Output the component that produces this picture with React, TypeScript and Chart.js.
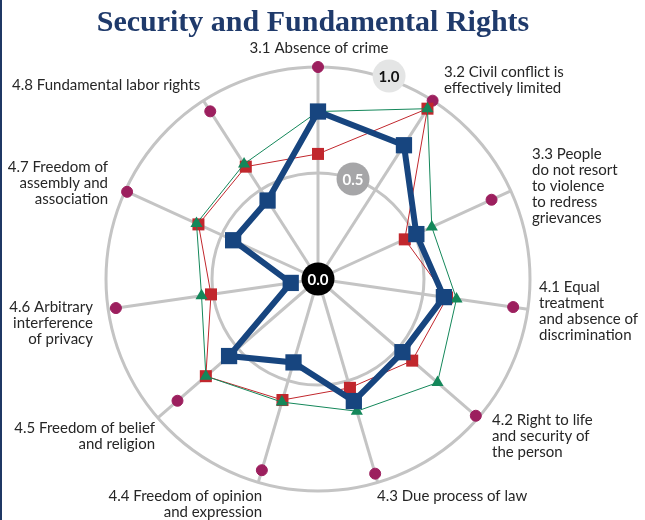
import React, { useEffect, useRef } from "react";
import { Chart, registerables } from "chart.js";

Chart.register(...registerables);

const TITLE = "Security and Fundamental Rights";

const categories: string[][] = [
  ["3.1 Absence of crime"],
  ["3.2 Civil conflict is", "effectively limited"],
  ["3.3 People", "do not resort", "to violence", "to redress", "grievances"],
  ["4.1 Equal", "treatment", "and absence of", "discrimination"],
  ["4.2 Right to life", "and security of", "the person"],
  ["4.3 Due process of law"],
  ["4.4 Freedom of opinion", "and expression"],
  ["4.5 Freedom of belief", "and religion"],
  ["4.6 Arbitrary", "interference", "of privacy"],
  ["4.7 Freedom of", "assembly and", "association"],
  ["4.8 Fundamental labor rights"],
];

const countryScores = [0.79, 0.75, 0.51, 0.6, 0.527, 0.6, 0.41, 0.555, 0.13, 0.44, 0.44];
const regionScores = [0.59, 0.955, 0.45, 0.615, 0.588, 0.535, 0.595, 0.7, 0.51, 0.62, 0.63];
const incomeScores = [0.79, 0.955, 0.59, 0.66, 0.746, 0.65, 0.605, 0.7, 0.555, 0.63, 0.645];
const topScores = [1.0, 1.0, 0.9, 0.93, 0.985, 0.957, 0.94, 0.877, 0.963, 0.99, 0.94];

const tickValues = [0, 0.5, 1];
const tickLabels = ["0.0", "0.5", "1.0"];

// Layout of label text relative to chart centre (dx, dy of first baseline)
const LABEL_LAYOUT: { dx: number; dy: number; align: CanvasTextAlign }[] = [
  { dx: 1, dy: -226, align: "center" },
  { dx: 126, dy: -202, align: "left" },
  { dx: 214, dy: -120, align: "left" },
  { dx: 221, dy: 13, align: "left" },
  { dx: 174, dy: 146, align: "left" },
  { dx: 59, dy: 222, align: "left" },
  { dx: -56, dy: 222, align: "right" },
  { dx: -163, dy: 154, align: "right" },
  { dx: -225, dy: 33, align: "right" },
  { dx: -210, dy: -107, align: "right" },
  { dx: -306, dy: -189, align: "left" },
];

const BADGES = [
  { fill: "#000000", text: "#ffffff" },
  { fill: "#a6a6a8", text: "#ffffff" },
  { fill: "#e4e5e5", text: "#111111" },
];

const overlayPlugin = {
  id: "overlay",
  afterDraw(chart: any) {
    const ctx: CanvasRenderingContext2D = chart.ctx;
    const r = chart.scales.r;
    const cx = r.xCenter;
    const cy = r.yCenter;
    ctx.save();
    // left rule
    ctx.fillStyle = "#1f3864";
    ctx.fillRect(0, 0, 2, chart.height);
    // title
    ctx.font = "bold 30px 'Liberation Serif'";
    ctx.fillStyle = "#1f3a6b";
    ctx.textAlign = "center";
    ctx.textBaseline = "alphabetic";
    ctx.fillText(TITLE, cx - 5, 31);
    // category labels
    ctx.font = "15px Lato";
    ctx.fillStyle = "#262626";
    categories.forEach((lines, i) => {
      const p = LABEL_LAYOUT[i];
      ctx.textAlign = p.align;
      lines.forEach((ln, k) => ctx.fillText(ln, cx + p.dx, cy + p.dy + k * 16));
    });
    // tick badges
    const ang = (19.3 * Math.PI) / 180;
    tickValues.forEach((v, i) => {
      const d = r.getDistanceFromCenterForValue(v) + (i === 2 ? 3 : 0);
      const x = cx + Math.sin(ang) * d;
      const y = cy - Math.cos(ang) * d;
      ctx.beginPath();
      ctx.arc(x, y, 16.5, 0, Math.PI * 2);
      ctx.fillStyle = BADGES[i].fill;
      ctx.fill();
      ctx.font = "bold 15px Lato";
      ctx.fillStyle = BADGES[i].text;
      ctx.textAlign = "center";
      ctx.textBaseline = "middle";
      ctx.fillText(tickLabels[i], x, y + 1);
    });
    ctx.restore();
  },
};

export default function App() {
  const ref = useRef<HTMLCanvasElement | null>(null);
  useEffect(() => {
    if (!ref.current) return;
    const chart = new Chart(ref.current, {
      type: "radar",
      data: {
        labels: categories,
        datasets: [
          {
            label: "Top",
            data: topScores,
            showLine: false,
            pointStyle: "circle",
            pointRadius: 5.5,
            pointBackgroundColor: "#9c1f5e",
            pointBorderColor: "#9c1f5e",
            borderColor: "#9c1f5e",
            backgroundColor: "#9c1f5e",
            fill: false,
            order: 4,
          },
          {
            label: "Region",
            data: regionScores,
            borderColor: "#c1272d",
            borderWidth: 1,
            pointStyle: "rect",
            pointRadius: 8.5,
            pointBorderWidth: 0,
            pointBackgroundColor: "#c1272d",
            pointBorderColor: "#c1272d",
            fill: false,
            order: 3,
          },
          {
            label: "Income",
            data: incomeScores,
            borderColor: "#14875a",
            borderWidth: 1,
            pointStyle: "triangle",
            pointRadius: 7,
            pointBorderWidth: 0,
            pointBackgroundColor: "#14875a",
            pointBorderColor: "#14875a",
            fill: false,
            order: 2,
          },
          {
            label: "Country",
            data: countryScores,
            borderColor: "#17457f",
            borderWidth: 6,
            pointStyle: "rect",
            pointRadius: 11.5,
            pointBorderWidth: 0,
            pointBackgroundColor: "#17457f",
            pointBorderColor: "#17457f",
            fill: false,
            order: 1,
          },
        ],
      },
      options: {
        animation: false,
        responsive: false,
        layout: { padding: { left: 106, right: 115, top: 67, bottom: 29 } },
        elements: { line: { tension: 0 } },
        plugins: { legend: { display: false }, tooltip: { enabled: false }, title: { display: false } },
        scales: {
          r: {
            min: 0,
            max: 1,
            ticks: { display: false, stepSize: 0.5 },
            grid: { color: "#c4c4c4", lineWidth: 3, circular: true },
            angleLines: { color: "#c4c4c4", lineWidth: 3 },
            pointLabels: { display: false },
          },
        },
      },
      plugins: [overlayPlugin],
    } as any);
    return () => chart.destroy();
  }, []);
  return (
    <div style={{ position: "fixed", left: 0, top: 0, width: 645, height: 520, background: "#fff" }}>
      <canvas ref={ref} width={645} height={520} style={{ display: "block" }} />
    </div>
  );
}
